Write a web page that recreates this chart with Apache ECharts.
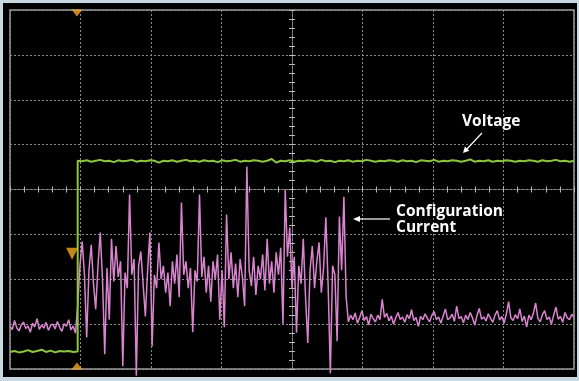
<!DOCTYPE html>
<html><head><meta charset="utf-8">
<script src="https://cdn.jsdelivr.net/npm/echarts@6/dist/echarts.min.js"></script>
<style>html,body{margin:0;padding:0;background:#c9d7e1;}#c{width:579px;height:381px;}</style>
</head><body><div id="c"></div>
<script>
// time axis in divisions (-4..4), vertical axis in divisions (-4..4)
const xTicks = [-4,-3,-2,-1,0,1,2,3,4];
const currentStart = -4, currentStep = 0.032;
const currentPre = [-3.05,-3.12,-2.92,-3.08,-3.15,-3.02,-2.95,-3.10,-3.04,-3.18,-2.98,-3.06,-2.88,-3.12,-3.02,-3.09,-2.96,-3.14,-3.03,-3.00,-3.11,-2.94,-3.07,-3.16,-2.99,-3.05,-2.90,-3.13,-3.04,-3.20];
const currentBurst = [-2.6,-1.7,-1.16,-1.9,-3.3,-1.8,-1.23,-2.1,-2.67,-1.7,
 -0.96,-2.0,-3.67,-1.75,-2.9,-1.1,-2.05,-1.26,-1.95,-1.6,
 -3.94,-1.85,-2.2,-0.11,-1.9,-1.55,-4.15,-1.7,-1.38,-2.1,
 -2.83,-1.8,-0.96,-3.5,-1.9,-2.2,-1.18,-2.0,-1.7,-2.3,
 -1.85,-2.6,-1.6,-2.1,-1.45,-2.4,-0.29,-1.9,-1.6,-2.2,
 -1.75,-3.18,-1.8,-2.05,-0.11,-1.95,-1.5,-2.3,-1.7,-2.5,
 -1.6,-2.0,-1.45,-2.9,-1.8,-3.07,-0.56,-2.0,-1.4,-2.2,
 -1.65,-2.4,-1.55,-1.95,-2.6,0.51,-1.8,-2.15,-1.5,-2.35,
 -1.7,-2.0,-1.45,-2.25,-1.1,-2.1,-1.6,-2.3,-1.4,-1.9,
 -1.3,-3.0,0.0,-1.5,-0.85,-2.2,-1.5,-3.19,-1.7,-2.1,
 -1.1,-2.4,-3.42,-1.8,-1.26,-2.2,-1.6,-1.18,-2.3,-1.75,
 -0.62,-2.1,-4.1,-1.7,-1.9,-3.38,-0.6,-1.8,-0.16,-2.4];
const currentPost = [-2.95,-2.8,-2.9,-2.75,-2.98,-2.85,-2.7,-2.92,-2.83,-3.02,
 -2.78,-2.88,-2.95,-2.8,-2.9,-2.45,-2.85,-2.76,-2.93,-2.82,
 -3.0,-2.86,-2.74,-2.9,-2.84,-2.96,-2.79,-2.88,-2.68,-2.92,
 -2.85,-3.05,-2.83,-2.9,-2.77,-2.87,-2.95,-2.8,-2.72,-2.9,
 -2.84,-2.98,-2.82,-2.66,-2.9,-2.86,-2.78,-2.94,-2.6,-2.88,
 -2.83,-2.97,-2.8,-2.9,-2.74,-2.86,-3.02,-2.81,-2.65,-2.89,
 -2.84,-2.93,-2.77,-2.87,-2.96,-2.8,-2.7,-2.91,-2.83,-2.98,
 -2.78,-2.5,-2.86,-2.92,-2.79,-2.88,-2.66,-2.94,-2.82,-3.06,
 -2.8,-2.9,-2.76,-2.53,-2.87,-2.95,-2.79,-2.7,-2.9,-2.84,
 -3.0,-2.8,-2.62,-2.89,-2.83,-2.96,-2.74,-2.86,-2.9,-2.78,-2.85];
const voltageStep = 0.064;
const voltageLowStart = -4;
const voltageLow = [-3.62,-3.6,-3.63,-3.61,-3.58,-3.62,-3.6,-3.57,-3.62,-3.59,-3.63,-3.6,-3.61,-3.6,-3.62,-3.61];
const voltageHighStart = -3.04;
const voltageHigh = [0.64,0.63,0.65,0.62,0.64,0.66,0.63,0.64,0.61,0.65,
 0.63,0.64,0.66,0.62,0.64,0.63,0.65,0.64,0.60,0.64,
 0.63,0.65,0.62,0.64,0.66,0.63,0.64,0.62,0.65,0.63,
 0.64,0.61,0.65,0.63,0.64,0.66,0.62,0.64,0.63,0.65,
 0.64,0.62,0.64,0.68,0.60,0.64,0.63,0.65,0.62,0.64,
 0.63,0.65,0.64,0.62,0.66,0.63,0.64,0.61,0.64,0.63,
 0.65,0.62,0.64,0.63,0.66,0.64,0.62,0.64,0.63,0.65,
 0.64,0.62,0.65,0.63,0.64,0.61,0.65,0.64,0.63,0.66,
 0.62,0.64,0.63,0.65,0.64,0.62,0.64,0.67,0.62,0.64,
 0.63,0.65,0.62,0.64,0.63,0.65,0.64,0.62,0.64,0.63,
 0.65,0.64,0.62,0.65,0.63,0.64,0.66,0.63,0.64,0.62,0.64];
const triggerTime = [-3.05];
const triggerLevel = [-1.43];
const labels = {voltage: 'Voltage', current1: 'Configuration', current2: 'Current'};

const currentVals = currentPre.concat(currentBurst, currentPost);
const currentData = currentVals.map((v, i) => [currentStart + i * currentStep, v]);
const voltageData = voltageLow.map((v, i) => [voltageLowStart + i * voltageStep, v])
  .concat(voltageHigh.map((v, i) => [voltageHighStart + i * voltageStep, v]));

const gridCol = '#8a8a8a';
const ORANGE = '#f4a61d';
function axisX(pos, split) {
  return {type:'value', position:pos, min:-4, max:4, interval:1,
    axisLine:{show:true, onZero:true, onZeroAxisIndex:0, lineStyle:{color:gridCol, type:[2,2], width:1}},
    axisTick:{show:true, length:3, lineStyle:{color:'#bbbbbb'}},
    minorTick:{show:true, splitNumber:5, length:3, lineStyle:{color:'#bbbbbb'}},
    axisLabel:{show:false},
    splitLine:{show:split, lineStyle:{color:gridCol, type:[2,2], width:1}}};
}
function axisY(pos, split) {
  return {type:'value', position:pos, min:-4, max:4, interval:1,
    axisLine:{show:true, onZero:true, onZeroAxisIndex:0, lineStyle:{color:gridCol, type:[2,2], width:1}},
    axisTick:{show:true, length:3, lineStyle:{color:'#bbbbbb'}},
    minorTick:{show:true, splitNumber:5, length:3, lineStyle:{color:'#bbbbbb'}},
    axisLabel:{show:false},
    splitLine:{show:split, lineStyle:{color:gridCol, type:[2,2], width:1}}};
}
const chart = echarts.init(document.getElementById('c'), null, {renderer:'canvas'});
const txt = (x, y, s) => ({type:'text', x:x, y:y, z:100,
  style:{text:s, fill:'#ffffff', font:'bold 15.5px "Open Sans"', textVerticalAlign:'middle'}});
chart.setOption({
  animation:false,
  backgroundColor:'#c9d7e1',
  grid:{left:10, top:10, width:564, height:359, show:true, backgroundColor:'transparent', borderColor:'#9a9a9a', borderWidth:1.5},
  xAxis:[axisX('bottom', true), axisX('top', false)],
  yAxis:[axisY('left', true), axisY('right', false)],
  graphic:{elements:[
    {type:'rect', z:-100, zlevel:0, shape:{x:3, y:3, width:574, height:374}, style:{fill:'#000000'}},
    txt(462, 122, labels.voltage),
    txt(396, 212, labels.current1),
    txt(396, 228, labels.current2),
    {type:'line', z:100, shape:{x1:482, y1:133, x2:466, y2:150}, style:{stroke:'#fff', lineWidth:1.2}},
    {type:'polygon', z:100, shape:{points:[[463,153],[469.3,150.8],[464.9,146.6]]}, style:{fill:'#fff'}},
    {type:'line', z:100, shape:{x1:390, y1:219, x2:358, y2:219}, style:{stroke:'#fff', lineWidth:1.2}},
    {type:'polygon', z:100, shape:{points:[[353,219],[360,216],[360,222]]}, style:{fill:'#fff'}}
  ]},
  series:[
    {type:'line', data:currentData, showSymbol:false, clip:false, lineStyle:{color:'#d884cf', width:1.5}, z:3},
    {type:'line', data:voltageData, showSymbol:false, lineStyle:{color:'#8cc63e', width:2}, z:4},
    {type:'scatter', data:[[triggerTime[0], 4]], symbol:'triangle', symbolRotate:180, symbolSize:[11,7], symbolOffset:[0,3], itemStyle:{color:ORANGE}, clip:false, z:5},
    {type:'scatter', data:[[triggerTime[0], -4]], symbol:'triangle', symbolSize:[11,7], symbolOffset:[0,-3], itemStyle:{color:ORANGE}, clip:false, z:5},
    {type:'scatter', data:[[triggerTime[0]-0.07, triggerLevel[0]]], symbol:'triangle', symbolRotate:180, symbolSize:[12,12], itemStyle:{color:ORANGE}, clip:false, z:5}
  ]
});
</script></body></html>
